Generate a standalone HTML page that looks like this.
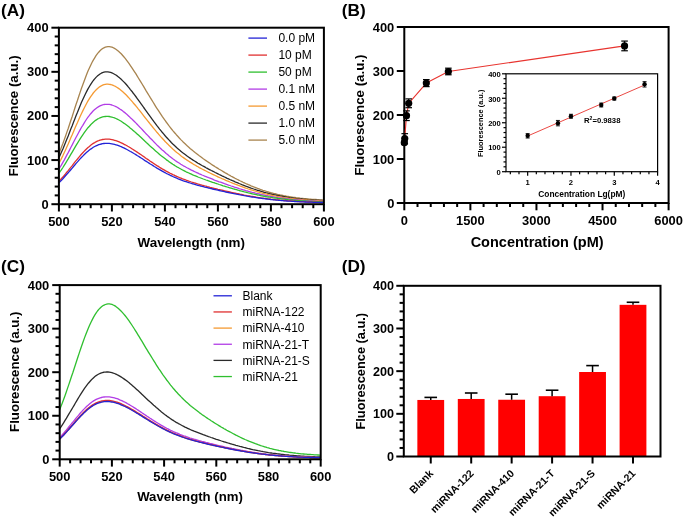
<!DOCTYPE html>
<html><head><meta charset="utf-8"><style>
html,body{margin:0;padding:0;background:#fff;}
svg{display:block;will-change:transform;}
text{font-family:"Liberation Sans",sans-serif;}
</style></head><body>
<svg width="685" height="518" viewBox="0 0 685 518" font-family="Liberation Sans, sans-serif">
<rect width="685" height="518" fill="#fff"/>
<text x="1.00" y="16.10" font-size="17.2" font-weight="bold" text-anchor="start" fill="#000" >(A)</text>
<path d="M58.9,153.7 60.2,150.4 61.5,147.0 62.9,143.5 64.2,139.9 65.5,136.2 66.8,132.4 68.2,128.5 69.5,124.5 70.8,120.5 72.2,116.5 73.5,112.4 74.8,108.3 76.1,104.3 77.5,100.3 78.8,96.3 80.1,92.4 81.4,88.5 82.8,84.8 84.1,81.2 85.4,77.7 86.7,74.3 88.0,71.1 89.4,68.1 90.7,65.2 92.0,62.5 93.3,60.1 94.7,57.8 96.0,55.7 97.3,53.9 98.7,52.2 100.0,50.8 101.3,49.6 102.6,48.6 103.9,47.8 105.3,47.2 106.6,46.9 107.9,46.7 109.2,46.7 110.6,46.9 111.9,47.2 113.2,47.7 114.5,48.4 115.9,49.2 117.2,50.2 118.5,51.3 119.8,52.5 121.2,53.8 122.5,55.3 123.8,56.8 125.2,58.4 126.5,60.1 127.8,61.9 129.1,63.7 130.4,65.6 131.8,67.6 133.1,69.6 134.4,71.6 135.8,73.7 137.1,75.8 138.4,78.0 139.7,80.1 141.1,82.3 142.4,84.5 143.7,86.7 145.0,88.9 146.3,91.1 147.7,93.3 149.0,95.5 150.3,97.7 151.7,99.9 153.0,102.0 154.3,104.2 155.6,106.3 156.9,108.3 158.3,110.4 159.6,112.4 160.9,114.4 162.2,116.4 163.6,118.3 164.9,120.2 166.2,122.0 167.6,123.8 168.9,125.6 170.2,127.3 171.5,129.0 172.8,130.6 174.2,132.2 175.5,133.7 176.8,135.3 178.2,136.7 179.5,138.2 180.8,139.6 182.1,140.9 183.4,142.2 184.8,143.5 186.1,144.8 187.4,146.0 188.8,147.2 190.1,148.4 191.4,149.5 192.7,150.6 194.1,151.7 195.4,152.8 196.7,153.8 198.0,154.8 199.3,155.8 200.7,156.8 202.0,157.8 203.3,158.8 204.7,159.7 206.0,160.6 207.3,161.5 208.6,162.4 210.0,163.3 211.3,164.2 212.6,165.1 213.9,165.9 215.2,166.8 216.6,167.6 217.9,168.4 219.2,169.2 220.6,170.0 221.9,170.8 223.2,171.6 224.5,172.4 225.8,173.2 227.2,173.9 228.5,174.7 229.8,175.4 231.2,176.2 232.5,176.9 233.8,177.6 235.1,178.3 236.5,179.0 237.8,179.7 239.1,180.3 240.4,181.0 241.8,181.6 243.1,182.3 244.4,182.9 245.7,183.5 247.1,184.1 248.4,184.7 249.7,185.2 251.0,185.8 252.3,186.3 253.7,186.9 255.0,187.4 256.3,187.9 257.6,188.4 259.0,188.9 260.3,189.4 261.6,189.8 262.9,190.3 264.3,190.7 265.6,191.1 266.9,191.5 268.2,191.9 269.6,192.3 270.9,192.7 272.2,193.0 273.6,193.4 274.9,193.7 276.2,194.0 277.5,194.4 278.8,194.7 280.2,195.0 281.5,195.2 282.8,195.5 284.1,195.8 285.5,196.0 286.8,196.3 288.1,196.5 289.4,196.7 290.8,196.9 292.1,197.1 293.4,197.3 294.8,197.5 296.1,197.7 297.4,197.8 298.7,198.0 300.1,198.2 301.4,198.3 302.7,198.4 304.0,198.6 305.3,198.7 306.7,198.8 308.0,198.9 309.3,199.1 310.6,199.2 312.0,199.3 313.3,199.4 314.6,199.4 315.9,199.5 317.3,199.6 318.6,199.7 319.9,199.8 321.2,199.8 322.6,199.9 323.9,200.0" fill="none" stroke="#a8844f" stroke-width="1.3" stroke-linejoin="round"/>
<path d="M58.9,157.9 60.2,155.0 61.5,152.0 62.9,148.9 64.2,145.7 65.5,142.5 66.8,139.2 68.2,135.9 69.5,132.5 70.8,129.1 72.2,125.7 73.5,122.3 74.8,118.9 76.1,115.5 77.5,112.2 78.8,108.9 80.1,105.7 81.4,102.6 82.8,99.6 84.1,96.8 85.4,94.0 86.7,91.4 88.0,88.9 89.4,86.5 90.7,84.4 92.0,82.4 93.3,80.5 94.7,78.9 96.0,77.4 97.3,76.1 98.7,75.0 100.0,74.0 101.3,73.2 102.6,72.6 103.9,72.2 105.3,71.9 106.6,71.8 107.9,71.9 109.2,72.1 110.6,72.4 111.9,72.9 113.2,73.5 114.5,74.2 115.9,75.0 117.2,75.9 118.5,76.9 119.8,78.1 121.2,79.3 122.5,80.6 123.8,81.9 125.2,83.3 126.5,84.8 127.8,86.3 129.1,87.9 130.4,89.6 131.8,91.2 133.1,93.0 134.4,94.7 135.8,96.5 137.1,98.3 138.4,100.1 139.7,101.9 141.1,103.8 142.4,105.6 143.7,107.5 145.0,109.3 146.3,111.2 147.7,113.1 149.0,114.9 150.3,116.7 151.7,118.6 153.0,120.4 154.3,122.2 155.6,123.9 156.9,125.7 158.3,127.4 159.6,129.1 160.9,130.7 162.2,132.3 163.6,133.9 164.9,135.5 166.2,137.0 167.6,138.5 168.9,139.9 170.2,141.3 171.5,142.7 172.8,144.0 174.2,145.3 175.5,146.5 176.8,147.8 178.2,148.9 179.5,150.1 180.8,151.2 182.1,152.3 183.4,153.3 184.8,154.3 186.1,155.3 187.4,156.3 188.8,157.2 190.1,158.1 191.4,159.0 192.7,159.9 194.1,160.7 195.4,161.5 196.7,162.4 198.0,163.2 199.3,163.9 200.7,164.7 202.0,165.5 203.3,166.2 204.7,166.9 206.0,167.7 207.3,168.4 208.6,169.1 210.0,169.8 211.3,170.5 212.6,171.1 213.9,171.8 215.2,172.5 216.6,173.2 217.9,173.8 219.2,174.5 220.6,175.1 221.9,175.8 223.2,176.4 224.5,177.0 225.8,177.6 227.2,178.3 228.5,178.9 229.8,179.5 231.2,180.1 232.5,180.7 233.8,181.2 235.1,181.8 236.5,182.4 237.8,182.9 239.1,183.5 240.4,184.0 241.8,184.6 243.1,185.1 244.4,185.6 245.7,186.1 247.1,186.6 248.4,187.1 249.7,187.6 251.0,188.1 252.3,188.5 253.7,189.0 255.0,189.4 256.3,189.9 257.6,190.3 259.0,190.7 260.3,191.1 261.6,191.5 262.9,191.9 264.3,192.3 265.6,192.6 266.9,193.0 268.2,193.3 269.6,193.7 270.9,194.0 272.2,194.3 273.6,194.6 274.9,194.9 276.2,195.2 277.5,195.5 278.8,195.7 280.2,196.0 281.5,196.2 282.8,196.5 284.1,196.7 285.5,196.9 286.8,197.2 288.1,197.4 289.4,197.6 290.8,197.8 292.1,197.9 293.4,198.1 294.8,198.3 296.1,198.5 297.4,198.6 298.7,198.8 300.1,198.9 301.4,199.0 302.7,199.2 304.0,199.3 305.3,199.4 306.7,199.5 308.0,199.7 309.3,199.8 310.6,199.9 312.0,200.0 313.3,200.0 314.6,200.1 315.9,200.2 317.3,200.3 318.6,200.4 319.9,200.4 321.2,200.5 322.6,200.6 323.9,200.6" fill="none" stroke="#2a2a2a" stroke-width="1.3" stroke-linejoin="round"/>
<path d="M58.9,163.6 60.2,161.0 61.5,158.4 62.9,155.6 64.2,152.8 65.5,149.9 66.8,147.0 68.2,144.0 69.5,140.9 70.8,137.8 72.2,134.8 73.5,131.7 74.8,128.6 76.1,125.5 77.5,122.5 78.8,119.5 80.1,116.6 81.4,113.7 82.8,110.9 84.1,108.3 85.4,105.7 86.7,103.2 88.0,100.9 89.4,98.7 90.7,96.7 92.0,94.8 93.3,93.0 94.7,91.4 96.0,90.0 97.3,88.7 98.7,87.6 100.0,86.6 101.3,85.8 102.6,85.2 103.9,84.7 105.3,84.4 106.6,84.2 107.9,84.2 109.2,84.3 110.6,84.5 111.9,84.9 113.2,85.4 114.5,86.0 115.9,86.7 117.2,87.5 118.5,88.4 119.8,89.3 121.2,90.4 122.5,91.5 123.8,92.7 125.2,94.0 126.5,95.3 127.8,96.7 129.1,98.1 130.4,99.6 131.8,101.1 133.1,102.7 134.4,104.2 135.8,105.8 137.1,107.4 138.4,109.1 139.7,110.7 141.1,112.4 142.4,114.1 143.7,115.8 145.0,117.5 146.3,119.1 147.7,120.8 149.0,122.5 150.3,124.2 151.7,125.8 153.0,127.5 154.3,129.1 155.6,130.7 156.9,132.3 158.3,133.8 159.6,135.4 160.9,136.9 162.2,138.3 163.6,139.8 164.9,141.2 166.2,142.6 167.6,143.9 168.9,145.3 170.2,146.5 171.5,147.8 172.8,149.0 174.2,150.2 175.5,151.4 176.8,152.5 178.2,153.6 179.5,154.6 180.8,155.7 182.1,156.7 183.4,157.6 184.8,158.6 186.1,159.5 187.4,160.4 188.8,161.3 190.1,162.1 191.4,162.9 192.7,163.8 194.1,164.6 195.4,165.3 196.7,166.1 198.0,166.8 199.3,167.6 200.7,168.3 202.0,169.0 203.3,169.7 204.7,170.4 206.0,171.0 207.3,171.7 208.6,172.4 210.0,173.0 211.3,173.7 212.6,174.3 213.9,174.9 215.2,175.5 216.6,176.2 217.9,176.8 219.2,177.4 220.6,178.0 221.9,178.6 223.2,179.1 224.5,179.7 225.8,180.3 227.2,180.9 228.5,181.4 229.8,182.0 231.2,182.5 232.5,183.1 233.8,183.6 235.1,184.1 236.5,184.6 237.8,185.2 239.1,185.7 240.4,186.2 241.8,186.6 243.1,187.1 244.4,187.6 245.7,188.1 247.1,188.5 248.4,189.0 249.7,189.4 251.0,189.8 252.3,190.2 253.7,190.6 255.0,191.0 256.3,191.4 257.6,191.8 259.0,192.2 260.3,192.6 261.6,192.9 262.9,193.3 264.3,193.6 265.6,193.9 266.9,194.2 268.2,194.5 269.6,194.8 270.9,195.1 272.2,195.4 273.6,195.7 274.9,195.9 276.2,196.2 277.5,196.4 278.8,196.7 280.2,196.9 281.5,197.1 282.8,197.3 284.1,197.6 285.5,197.8 286.8,197.9 288.1,198.1 289.4,198.3 290.8,198.5 292.1,198.6 293.4,198.8 294.8,198.9 296.1,199.1 297.4,199.2 298.7,199.4 300.1,199.5 301.4,199.6 302.7,199.7 304.0,199.8 305.3,199.9 306.7,200.0 308.0,200.1 309.3,200.2 310.6,200.3 312.0,200.4 313.3,200.5 314.6,200.5 315.9,200.6 317.3,200.7 318.6,200.7 319.9,200.8 321.2,200.9 322.6,200.9 323.9,201.0" fill="none" stroke="#f59a32" stroke-width="1.3" stroke-linejoin="round"/>
<path d="M58.9,169.2 60.2,167.0 61.5,164.8 62.9,162.4 64.2,160.1 65.5,157.6 66.8,155.1 68.2,152.6 69.5,150.1 70.8,147.5 72.2,144.9 73.5,142.3 74.8,139.8 76.1,137.2 77.5,134.7 78.8,132.3 80.1,129.9 81.4,127.5 82.8,125.3 84.1,123.1 85.4,121.0 86.7,119.0 88.0,117.1 89.4,115.4 90.7,113.7 92.0,112.2 93.3,110.8 94.7,109.6 96.0,108.5 97.3,107.5 98.7,106.6 100.0,105.9 101.3,105.3 102.6,104.9 103.9,104.5 105.3,104.3 106.6,104.3 107.9,104.3 109.2,104.4 110.6,104.7 111.9,105.0 113.2,105.5 114.5,106.0 115.9,106.6 117.2,107.3 118.5,108.1 119.8,109.0 121.2,109.9 122.5,110.8 123.8,111.9 125.2,112.9 126.5,114.1 127.8,115.2 129.1,116.4 130.4,117.7 131.8,118.9 133.1,120.2 134.4,121.5 135.8,122.9 137.1,124.2 138.4,125.6 139.7,127.0 141.1,128.4 142.4,129.8 143.7,131.2 145.0,132.6 146.3,134.0 147.7,135.4 149.0,136.8 150.3,138.2 151.7,139.5 153.0,140.9 154.3,142.3 155.6,143.6 156.9,144.9 158.3,146.2 159.6,147.5 160.9,148.7 162.2,149.9 163.6,151.1 164.9,152.3 166.2,153.5 167.6,154.6 168.9,155.7 170.2,156.7 171.5,157.7 172.8,158.7 174.2,159.7 175.5,160.7 176.8,161.6 178.2,162.5 179.5,163.3 180.8,164.2 182.1,165.0 183.4,165.8 184.8,166.5 186.1,167.3 187.4,168.0 188.8,168.7 190.1,169.4 191.4,170.1 192.7,170.7 194.1,171.4 195.4,172.0 196.7,172.6 198.0,173.2 199.3,173.8 200.7,174.4 202.0,175.0 203.3,175.5 204.7,176.1 206.0,176.6 207.3,177.2 208.6,177.7 210.0,178.2 211.3,178.7 212.6,179.2 213.9,179.8 215.2,180.3 216.6,180.8 217.9,181.3 219.2,181.8 220.6,182.2 221.9,182.7 223.2,183.2 224.5,183.7 225.8,184.1 227.2,184.6 228.5,185.1 229.8,185.5 231.2,186.0 232.5,186.4 233.8,186.9 235.1,187.3 236.5,187.7 237.8,188.1 239.1,188.6 240.4,189.0 241.8,189.4 243.1,189.8 244.4,190.2 245.7,190.6 247.1,190.9 248.4,191.3 249.7,191.7 251.0,192.0 252.3,192.4 253.7,192.7 255.0,193.0 256.3,193.4 257.6,193.7 259.0,194.0 260.3,194.3 261.6,194.6 262.9,194.9 264.3,195.2 265.6,195.5 266.9,195.7 268.2,196.0 269.6,196.2 270.9,196.5 272.2,196.7 273.6,196.9 274.9,197.2 276.2,197.4 277.5,197.6 278.8,197.8 280.2,198.0 281.5,198.2 282.8,198.4 284.1,198.5 285.5,198.7 286.8,198.9 288.1,199.0 289.4,199.2 290.8,199.3 292.1,199.5 293.4,199.6 294.8,199.7 296.1,199.9 297.4,200.0 298.7,200.1 300.1,200.2 301.4,200.3 302.7,200.4 304.0,200.5 305.3,200.6 306.7,200.7 308.0,200.8 309.3,200.8 310.6,200.9 312.0,201.0 313.3,201.1 314.6,201.1 315.9,201.2 317.3,201.3 318.6,201.3 319.9,201.4 321.2,201.4 322.6,201.5 323.9,201.5" fill="none" stroke="#b23de6" stroke-width="1.3" stroke-linejoin="round"/>
<path d="M58.9,173.5 60.2,171.5 61.5,169.6 62.9,167.5 64.2,165.4 65.5,163.3 66.8,161.1 68.2,158.9 69.5,156.6 70.8,154.4 72.2,152.1 73.5,149.9 74.8,147.6 76.1,145.4 77.5,143.2 78.8,141.0 80.1,138.9 81.4,136.8 82.8,134.8 84.1,132.9 85.4,131.1 86.7,129.4 88.0,127.7 89.4,126.2 90.7,124.7 92.0,123.4 93.3,122.2 94.7,121.1 96.0,120.1 97.3,119.2 98.7,118.5 100.0,117.8 101.3,117.3 102.6,116.9 103.9,116.6 105.3,116.5 106.6,116.4 107.9,116.4 109.2,116.5 110.6,116.8 111.9,117.1 113.2,117.5 114.5,117.9 115.9,118.5 117.2,119.1 118.5,119.8 119.8,120.5 121.2,121.3 122.5,122.2 123.8,123.1 125.2,124.0 126.5,125.0 127.8,126.0 129.1,127.1 130.4,128.2 131.8,129.3 133.1,130.4 134.4,131.6 135.8,132.7 137.1,133.9 138.4,135.1 139.7,136.3 141.1,137.6 142.4,138.8 143.7,140.0 145.0,141.3 146.3,142.5 147.7,143.7 149.0,145.0 150.3,146.2 151.7,147.4 153.0,148.6 154.3,149.8 155.6,151.0 156.9,152.1 158.3,153.2 159.6,154.4 160.9,155.5 162.2,156.5 163.6,157.6 164.9,158.6 166.2,159.6 167.6,160.6 168.9,161.6 170.2,162.5 171.5,163.4 172.8,164.3 174.2,165.1 175.5,166.0 176.8,166.8 178.2,167.5 179.5,168.3 180.8,169.0 182.1,169.7 183.4,170.4 184.8,171.1 186.1,171.8 187.4,172.4 188.8,173.0 190.1,173.6 191.4,174.2 192.7,174.8 194.1,175.4 195.4,175.9 196.7,176.4 198.0,177.0 199.3,177.5 200.7,178.0 202.0,178.5 203.3,179.0 204.7,179.5 206.0,180.0 207.3,180.4 208.6,180.9 210.0,181.4 211.3,181.8 212.6,182.3 213.9,182.7 215.2,183.2 216.6,183.6 217.9,184.0 219.2,184.5 220.6,184.9 221.9,185.3 223.2,185.8 224.5,186.2 225.8,186.6 227.2,187.0 228.5,187.4 229.8,187.8 231.2,188.2 232.5,188.6 233.8,189.0 235.1,189.3 236.5,189.7 237.8,190.1 239.1,190.5 240.4,190.8 241.8,191.2 243.1,191.5 244.4,191.9 245.7,192.2 247.1,192.5 248.4,192.9 249.7,193.2 251.0,193.5 252.3,193.8 253.7,194.1 255.0,194.4 256.3,194.7 257.6,195.0 259.0,195.2 260.3,195.5 261.6,195.8 262.9,196.0 264.3,196.3 265.6,196.5 266.9,196.8 268.2,197.0 269.6,197.2 270.9,197.4 272.2,197.6 273.6,197.8 274.9,198.0 276.2,198.2 277.5,198.4 278.8,198.6 280.2,198.7 281.5,198.9 282.8,199.1 284.1,199.2 285.5,199.4 286.8,199.5 288.1,199.7 289.4,199.8 290.8,199.9 292.1,200.0 293.4,200.2 294.8,200.3 296.1,200.4 297.4,200.5 298.7,200.6 300.1,200.7 301.4,200.8 302.7,200.9 304.0,201.0 305.3,201.0 306.7,201.1 308.0,201.2 309.3,201.3 310.6,201.3 312.0,201.4 313.3,201.4 314.6,201.5 315.9,201.6 317.3,201.6 318.6,201.7 319.9,201.7 321.2,201.8 322.6,201.8 323.9,201.8" fill="none" stroke="#2fbf2f" stroke-width="1.3" stroke-linejoin="round"/>
<path d="M58.9,181.4 60.2,180.0 61.5,178.5 62.9,177.0 64.2,175.5 65.5,173.9 66.8,172.2 68.2,170.6 69.5,168.9 70.8,167.3 72.2,165.6 73.5,163.9 74.8,162.2 76.1,160.6 77.5,159.0 78.8,157.4 80.1,155.8 81.4,154.3 82.8,152.8 84.1,151.4 85.4,150.0 86.7,148.7 88.0,147.5 89.4,146.4 90.7,145.3 92.0,144.3 93.3,143.4 94.7,142.6 96.0,141.8 97.3,141.2 98.7,140.7 100.0,140.2 101.3,139.8 102.6,139.5 103.9,139.3 105.3,139.2 106.6,139.1 107.9,139.1 109.2,139.2 110.6,139.4 111.9,139.6 113.2,139.9 114.5,140.3 115.9,140.7 117.2,141.1 118.5,141.6 119.8,142.2 121.2,142.8 122.5,143.4 123.8,144.1 125.2,144.8 126.5,145.5 127.8,146.3 129.1,147.0 130.4,147.8 131.8,148.7 133.1,149.5 134.4,150.4 135.8,151.2 137.1,152.1 138.4,153.0 139.7,153.9 141.1,154.8 142.4,155.7 143.7,156.6 145.0,157.6 146.3,158.5 147.7,159.4 149.0,160.3 150.3,161.2 151.7,162.1 153.0,163.0 154.3,163.9 155.6,164.7 156.9,165.6 158.3,166.4 159.6,167.3 160.9,168.1 162.2,168.9 163.6,169.6 164.9,170.4 166.2,171.2 167.6,171.9 168.9,172.6 170.2,173.3 171.5,173.9 172.8,174.6 174.2,175.2 175.5,175.8 176.8,176.4 178.2,177.0 179.5,177.6 180.8,178.1 182.1,178.7 183.4,179.2 184.8,179.7 186.1,180.2 187.4,180.6 188.8,181.1 190.1,181.5 191.4,182.0 192.7,182.4 194.1,182.8 195.4,183.2 196.7,183.6 198.0,184.0 199.3,184.4 200.7,184.8 202.0,185.2 203.3,185.5 204.7,185.9 206.0,186.2 207.3,186.6 208.6,186.9 210.0,187.3 211.3,187.6 212.6,188.0 213.9,188.3 215.2,188.6 216.6,188.9 217.9,189.3 219.2,189.6 220.6,189.9 221.9,190.2 223.2,190.5 224.5,190.8 225.8,191.1 227.2,191.4 228.5,191.7 229.8,192.0 231.2,192.3 232.5,192.6 233.8,192.9 235.1,193.2 236.5,193.5 237.8,193.7 239.1,194.0 240.4,194.3 241.8,194.5 243.1,194.8 244.4,195.1 245.7,195.3 247.1,195.6 248.4,195.8 249.7,196.0 251.0,196.3 252.3,196.5 253.7,196.7 255.0,196.9 256.3,197.2 257.6,197.4 259.0,197.6 260.3,197.8 261.6,198.0 262.9,198.1 264.3,198.3 265.6,198.5 266.9,198.7 268.2,198.8 269.6,199.0 270.9,199.2 272.2,199.3 273.6,199.5 274.9,199.6 276.2,199.8 277.5,199.9 278.8,200.0 280.2,200.2 281.5,200.3 282.8,200.4 284.1,200.5 285.5,200.6 286.8,200.7 288.1,200.8 289.4,200.9 290.8,201.0 292.1,201.1 293.4,201.2 294.8,201.3 296.1,201.4 297.4,201.5 298.7,201.5 300.1,201.6 301.4,201.7 302.7,201.7 304.0,201.8 305.3,201.9 306.7,201.9 308.0,202.0 309.3,202.0 310.6,202.1 312.0,202.1 313.3,202.2 314.6,202.2 315.9,202.2 317.3,202.3 318.6,202.3 319.9,202.4 321.2,202.4 322.6,202.4 323.9,202.4" fill="none" stroke="#e03030" stroke-width="1.3" stroke-linejoin="round"/>
<path d="M58.9,182.9 60.2,181.5 61.5,180.2 62.9,178.8 64.2,177.3 65.5,175.8 66.8,174.3 68.2,172.8 69.5,171.2 70.8,169.7 72.2,168.1 73.5,166.5 74.8,165.0 76.1,163.4 77.5,161.9 78.8,160.4 80.1,158.9 81.4,157.5 82.8,156.1 84.1,154.8 85.4,153.5 86.7,152.3 88.0,151.2 89.4,150.1 90.7,149.1 92.0,148.2 93.3,147.3 94.7,146.5 96.0,145.9 97.3,145.3 98.7,144.7 100.0,144.3 101.3,144.0 102.6,143.7 103.9,143.5 105.3,143.4 106.6,143.3 107.9,143.3 109.2,143.4 110.6,143.6 111.9,143.8 113.2,144.1 114.5,144.4 115.9,144.8 117.2,145.2 118.5,145.7 119.8,146.2 121.2,146.7 122.5,147.3 123.8,147.9 125.2,148.6 126.5,149.3 127.8,150.0 129.1,150.7 130.4,151.5 131.8,152.2 133.1,153.0 134.4,153.8 135.8,154.6 137.1,155.5 138.4,156.3 139.7,157.1 141.1,158.0 142.4,158.8 143.7,159.7 145.0,160.6 146.3,161.4 147.7,162.3 149.0,163.1 150.3,164.0 151.7,164.8 153.0,165.6 154.3,166.5 155.6,167.3 156.9,168.1 158.3,168.9 159.6,169.6 160.9,170.4 162.2,171.1 163.6,171.9 164.9,172.6 166.2,173.3 167.6,174.0 168.9,174.6 170.2,175.3 171.5,175.9 172.8,176.5 174.2,177.1 175.5,177.7 176.8,178.2 178.2,178.8 179.5,179.3 180.8,179.8 182.1,180.3 183.4,180.8 184.8,181.3 186.1,181.7 187.4,182.2 188.8,182.6 190.1,183.0 191.4,183.4 192.7,183.8 194.1,184.2 195.4,184.6 196.7,185.0 198.0,185.3 199.3,185.7 200.7,186.0 202.0,186.4 203.3,186.7 204.7,187.1 206.0,187.4 207.3,187.7 208.6,188.0 210.0,188.4 211.3,188.7 212.6,189.0 213.9,189.3 215.2,189.6 216.6,189.9 217.9,190.2 219.2,190.5 220.6,190.8 221.9,191.1 223.2,191.4 224.5,191.7 225.8,192.0 227.2,192.3 228.5,192.5 229.8,192.8 231.2,193.1 232.5,193.4 233.8,193.6 235.1,193.9 236.5,194.2 237.8,194.4 239.1,194.7 240.4,194.9 241.8,195.2 243.1,195.4 244.4,195.7 245.7,195.9 247.1,196.1 248.4,196.3 249.7,196.6 251.0,196.8 252.3,197.0 253.7,197.2 255.0,197.4 256.3,197.6 257.6,197.8 259.0,198.0 260.3,198.2 261.6,198.4 262.9,198.5 264.3,198.7 265.6,198.9 266.9,199.0 268.2,199.2 269.6,199.3 270.9,199.5 272.2,199.6 273.6,199.8 274.9,199.9 276.2,200.1 277.5,200.2 278.8,200.3 280.2,200.4 281.5,200.5 282.8,200.6 284.1,200.8 285.5,200.9 286.8,201.0 288.1,201.1 289.4,201.1 290.8,201.2 292.1,201.3 293.4,201.4 294.8,201.5 296.1,201.6 297.4,201.6 298.7,201.7 300.1,201.8 301.4,201.8 302.7,201.9 304.0,201.9 305.3,202.0 306.7,202.1 308.0,202.1 309.3,202.2 310.6,202.2 312.0,202.2 313.3,202.3 314.6,202.3 315.9,202.4 317.3,202.4 318.6,202.4 319.9,202.5 321.2,202.5 322.6,202.5 323.9,202.6" fill="none" stroke="#2323d6" stroke-width="1.3" stroke-linejoin="round"/>
<rect x="58.90" y="27.70" width="265.00" height="176.50" fill="none" stroke="#000" stroke-width="2"/>
<line x1="51.40" y1="204.20" x2="58.90" y2="204.20" stroke="#000" stroke-width="2" />
<text x="48.60" y="208.71" font-size="12.9" font-weight="bold" text-anchor="end" fill="#000" >0</text>
<line x1="51.40" y1="160.07" x2="58.90" y2="160.07" stroke="#000" stroke-width="2" />
<text x="48.60" y="164.59" font-size="12.9" font-weight="bold" text-anchor="end" fill="#000" >100</text>
<line x1="51.40" y1="115.95" x2="58.90" y2="115.95" stroke="#000" stroke-width="2" />
<text x="48.60" y="120.46" font-size="12.9" font-weight="bold" text-anchor="end" fill="#000" >200</text>
<line x1="51.40" y1="71.82" x2="58.90" y2="71.82" stroke="#000" stroke-width="2" />
<text x="48.60" y="76.34" font-size="12.9" font-weight="bold" text-anchor="end" fill="#000" >300</text>
<line x1="51.40" y1="27.70" x2="58.90" y2="27.70" stroke="#000" stroke-width="2" />
<text x="48.60" y="32.21" font-size="12.9" font-weight="bold" text-anchor="end" fill="#000" >400</text>
<line x1="54.70" y1="195.38" x2="58.90" y2="195.38" stroke="#000" stroke-width="2" />
<line x1="54.70" y1="186.55" x2="58.90" y2="186.55" stroke="#000" stroke-width="2" />
<line x1="54.70" y1="177.72" x2="58.90" y2="177.72" stroke="#000" stroke-width="2" />
<line x1="54.70" y1="168.90" x2="58.90" y2="168.90" stroke="#000" stroke-width="2" />
<line x1="54.70" y1="151.25" x2="58.90" y2="151.25" stroke="#000" stroke-width="2" />
<line x1="54.70" y1="142.42" x2="58.90" y2="142.42" stroke="#000" stroke-width="2" />
<line x1="54.70" y1="133.60" x2="58.90" y2="133.60" stroke="#000" stroke-width="2" />
<line x1="54.70" y1="124.77" x2="58.90" y2="124.77" stroke="#000" stroke-width="2" />
<line x1="54.70" y1="107.12" x2="58.90" y2="107.12" stroke="#000" stroke-width="2" />
<line x1="54.70" y1="98.30" x2="58.90" y2="98.30" stroke="#000" stroke-width="2" />
<line x1="54.70" y1="89.47" x2="58.90" y2="89.47" stroke="#000" stroke-width="2" />
<line x1="54.70" y1="80.65" x2="58.90" y2="80.65" stroke="#000" stroke-width="2" />
<line x1="54.70" y1="63.00" x2="58.90" y2="63.00" stroke="#000" stroke-width="2" />
<line x1="54.70" y1="54.17" x2="58.90" y2="54.17" stroke="#000" stroke-width="2" />
<line x1="54.70" y1="45.35" x2="58.90" y2="45.35" stroke="#000" stroke-width="2" />
<line x1="54.70" y1="36.52" x2="58.90" y2="36.52" stroke="#000" stroke-width="2" />
<line x1="58.90" y1="204.20" x2="58.90" y2="211.50" stroke="#000" stroke-width="2" />
<text x="58.90" y="226.30" font-size="12.9" font-weight="bold" text-anchor="middle" fill="#000" >500</text>
<line x1="111.90" y1="204.20" x2="111.90" y2="211.50" stroke="#000" stroke-width="2" />
<text x="111.90" y="226.30" font-size="12.9" font-weight="bold" text-anchor="middle" fill="#000" >520</text>
<line x1="164.90" y1="204.20" x2="164.90" y2="211.50" stroke="#000" stroke-width="2" />
<text x="164.90" y="226.30" font-size="12.9" font-weight="bold" text-anchor="middle" fill="#000" >540</text>
<line x1="217.90" y1="204.20" x2="217.90" y2="211.50" stroke="#000" stroke-width="2" />
<text x="217.90" y="226.30" font-size="12.9" font-weight="bold" text-anchor="middle" fill="#000" >560</text>
<line x1="270.90" y1="204.20" x2="270.90" y2="211.50" stroke="#000" stroke-width="2" />
<text x="270.90" y="226.30" font-size="12.9" font-weight="bold" text-anchor="middle" fill="#000" >580</text>
<line x1="323.90" y1="204.20" x2="323.90" y2="211.50" stroke="#000" stroke-width="2" />
<text x="323.90" y="226.30" font-size="12.9" font-weight="bold" text-anchor="middle" fill="#000" >600</text>
<line x1="69.50" y1="204.20" x2="69.50" y2="208.20" stroke="#000" stroke-width="2" />
<line x1="80.10" y1="204.20" x2="80.10" y2="208.20" stroke="#000" stroke-width="2" />
<line x1="90.70" y1="204.20" x2="90.70" y2="208.20" stroke="#000" stroke-width="2" />
<line x1="101.30" y1="204.20" x2="101.30" y2="208.20" stroke="#000" stroke-width="2" />
<line x1="122.50" y1="204.20" x2="122.50" y2="208.20" stroke="#000" stroke-width="2" />
<line x1="133.10" y1="204.20" x2="133.10" y2="208.20" stroke="#000" stroke-width="2" />
<line x1="143.70" y1="204.20" x2="143.70" y2="208.20" stroke="#000" stroke-width="2" />
<line x1="154.30" y1="204.20" x2="154.30" y2="208.20" stroke="#000" stroke-width="2" />
<line x1="175.50" y1="204.20" x2="175.50" y2="208.20" stroke="#000" stroke-width="2" />
<line x1="186.10" y1="204.20" x2="186.10" y2="208.20" stroke="#000" stroke-width="2" />
<line x1="196.70" y1="204.20" x2="196.70" y2="208.20" stroke="#000" stroke-width="2" />
<line x1="207.30" y1="204.20" x2="207.30" y2="208.20" stroke="#000" stroke-width="2" />
<line x1="228.50" y1="204.20" x2="228.50" y2="208.20" stroke="#000" stroke-width="2" />
<line x1="239.10" y1="204.20" x2="239.10" y2="208.20" stroke="#000" stroke-width="2" />
<line x1="249.70" y1="204.20" x2="249.70" y2="208.20" stroke="#000" stroke-width="2" />
<line x1="260.30" y1="204.20" x2="260.30" y2="208.20" stroke="#000" stroke-width="2" />
<line x1="281.50" y1="204.20" x2="281.50" y2="208.20" stroke="#000" stroke-width="2" />
<line x1="292.10" y1="204.20" x2="292.10" y2="208.20" stroke="#000" stroke-width="2" />
<line x1="302.70" y1="204.20" x2="302.70" y2="208.20" stroke="#000" stroke-width="2" />
<line x1="313.30" y1="204.20" x2="313.30" y2="208.20" stroke="#000" stroke-width="2" />
<text x="191.30" y="246.60" font-size="13.4" font-weight="bold" text-anchor="middle" fill="#000" >Wavelength (nm)</text>
<text x="0.00" y="0.00" font-size="13.3" font-weight="bold" text-anchor="middle" fill="#000" transform="translate(18.0,115.9) rotate(-90)">Fluorescence (a.u.)</text>
<line x1="248.40" y1="38.10" x2="267.00" y2="38.10" stroke="#2323d6" stroke-width="1.3" />
<text x="278.40" y="42.30" font-size="12" font-weight="normal" text-anchor="start" fill="#000" >0.0 pM</text>
<line x1="248.40" y1="55.10" x2="267.00" y2="55.10" stroke="#e03030" stroke-width="1.3" />
<text x="278.40" y="59.30" font-size="12" font-weight="normal" text-anchor="start" fill="#000" >10 pM</text>
<line x1="248.40" y1="72.10" x2="267.00" y2="72.10" stroke="#2fbf2f" stroke-width="1.3" />
<text x="278.40" y="76.30" font-size="12" font-weight="normal" text-anchor="start" fill="#000" >50 pM</text>
<line x1="248.40" y1="89.10" x2="267.00" y2="89.10" stroke="#b23de6" stroke-width="1.3" />
<text x="278.40" y="93.30" font-size="12" font-weight="normal" text-anchor="start" fill="#000" >0.1 nM</text>
<line x1="248.40" y1="106.10" x2="267.00" y2="106.10" stroke="#f59a32" stroke-width="1.3" />
<text x="278.40" y="110.30" font-size="12" font-weight="normal" text-anchor="start" fill="#000" >0.5 nM</text>
<line x1="248.40" y1="123.10" x2="267.00" y2="123.10" stroke="#2a2a2a" stroke-width="1.3" />
<text x="278.40" y="127.30" font-size="12" font-weight="normal" text-anchor="start" fill="#000" >1.0 nM</text>
<line x1="248.40" y1="140.10" x2="267.00" y2="140.10" stroke="#a8844f" stroke-width="1.3" />
<text x="278.40" y="144.30" font-size="12" font-weight="normal" text-anchor="start" fill="#000" >5.0 nM</text>
<text x="341.80" y="16.10" font-size="17.2" font-weight="bold" text-anchor="start" fill="#000" >(B)</text>
<rect x="404.30" y="27.00" width="264.30" height="176.00" fill="none" stroke="#000" stroke-width="2"/>
<line x1="396.80" y1="203.00" x2="404.30" y2="203.00" stroke="#000" stroke-width="2" />
<text x="394.30" y="207.51" font-size="12.9" font-weight="bold" text-anchor="end" fill="#000" >0</text>
<line x1="396.80" y1="159.00" x2="404.30" y2="159.00" stroke="#000" stroke-width="2" />
<text x="394.30" y="163.51" font-size="12.9" font-weight="bold" text-anchor="end" fill="#000" >100</text>
<line x1="396.80" y1="115.00" x2="404.30" y2="115.00" stroke="#000" stroke-width="2" />
<text x="394.30" y="119.52" font-size="12.9" font-weight="bold" text-anchor="end" fill="#000" >200</text>
<line x1="396.80" y1="71.00" x2="404.30" y2="71.00" stroke="#000" stroke-width="2" />
<text x="394.30" y="75.52" font-size="12.9" font-weight="bold" text-anchor="end" fill="#000" >300</text>
<line x1="396.80" y1="27.00" x2="404.30" y2="27.00" stroke="#000" stroke-width="2" />
<text x="394.30" y="31.52" font-size="12.9" font-weight="bold" text-anchor="end" fill="#000" >400</text>
<line x1="404.30" y1="203.00" x2="404.30" y2="210.30" stroke="#000" stroke-width="2" />
<text x="404.30" y="225.10" font-size="12.9" font-weight="bold" text-anchor="middle" fill="#000" >0</text>
<line x1="470.38" y1="203.00" x2="470.38" y2="210.30" stroke="#000" stroke-width="2" />
<text x="470.38" y="225.10" font-size="12.9" font-weight="bold" text-anchor="middle" fill="#000" >1500</text>
<line x1="536.45" y1="203.00" x2="536.45" y2="210.30" stroke="#000" stroke-width="2" />
<text x="536.45" y="225.10" font-size="12.9" font-weight="bold" text-anchor="middle" fill="#000" >3000</text>
<line x1="602.52" y1="203.00" x2="602.52" y2="210.30" stroke="#000" stroke-width="2" />
<text x="602.52" y="225.10" font-size="12.9" font-weight="bold" text-anchor="middle" fill="#000" >4500</text>
<line x1="668.60" y1="203.00" x2="668.60" y2="210.30" stroke="#000" stroke-width="2" />
<text x="668.60" y="225.10" font-size="12.9" font-weight="bold" text-anchor="middle" fill="#000" >6000</text>
<line x1="417.51" y1="203.00" x2="417.51" y2="207.00" stroke="#000" stroke-width="2" />
<line x1="430.73" y1="203.00" x2="430.73" y2="207.00" stroke="#000" stroke-width="2" />
<line x1="443.94" y1="203.00" x2="443.94" y2="207.00" stroke="#000" stroke-width="2" />
<line x1="457.16" y1="203.00" x2="457.16" y2="207.00" stroke="#000" stroke-width="2" />
<line x1="483.59" y1="203.00" x2="483.59" y2="207.00" stroke="#000" stroke-width="2" />
<line x1="496.81" y1="203.00" x2="496.81" y2="207.00" stroke="#000" stroke-width="2" />
<line x1="510.02" y1="203.00" x2="510.02" y2="207.00" stroke="#000" stroke-width="2" />
<line x1="523.24" y1="203.00" x2="523.24" y2="207.00" stroke="#000" stroke-width="2" />
<line x1="549.66" y1="203.00" x2="549.66" y2="207.00" stroke="#000" stroke-width="2" />
<line x1="562.88" y1="203.00" x2="562.88" y2="207.00" stroke="#000" stroke-width="2" />
<line x1="576.10" y1="203.00" x2="576.10" y2="207.00" stroke="#000" stroke-width="2" />
<line x1="589.31" y1="203.00" x2="589.31" y2="207.00" stroke="#000" stroke-width="2" />
<line x1="615.74" y1="203.00" x2="615.74" y2="207.00" stroke="#000" stroke-width="2" />
<line x1="628.96" y1="203.00" x2="628.96" y2="207.00" stroke="#000" stroke-width="2" />
<line x1="642.17" y1="203.00" x2="642.17" y2="207.00" stroke="#000" stroke-width="2" />
<line x1="655.38" y1="203.00" x2="655.38" y2="207.00" stroke="#000" stroke-width="2" />
<text x="537.10" y="247.20" font-size="14.5" font-weight="bold" text-anchor="middle" fill="#000" >Concentration (pM)</text>
<text x="0.00" y="0.00" font-size="13.3" font-weight="bold" text-anchor="middle" fill="#000" transform="translate(363.6,115.15) rotate(-90)">Fluorescence (a.u.)</text>
<path d="M404.3,142.7 404.7,138.5 406.5,115.7 408.7,103.3 426.3,83.1 448.4,71.5 624.5,45.9" fill="none" stroke="#e8342f" stroke-width="1.1" stroke-linejoin="round"/>
<line x1="404.30" y1="141.18" x2="404.30" y2="144.26" stroke="#000" stroke-width="1.2" />
<line x1="401.00" y1="141.18" x2="407.60" y2="141.18" stroke="#000" stroke-width="1.2" />
<line x1="401.00" y1="144.26" x2="407.60" y2="144.26" stroke="#000" stroke-width="1.2" />
<line x1="404.74" y1="133.66" x2="404.74" y2="143.34" stroke="#000" stroke-width="1.2" />
<line x1="401.44" y1="133.66" x2="408.04" y2="133.66" stroke="#000" stroke-width="1.2" />
<line x1="401.44" y1="143.34" x2="408.04" y2="143.34" stroke="#000" stroke-width="1.2" />
<line x1="406.50" y1="110.86" x2="406.50" y2="120.54" stroke="#000" stroke-width="1.2" />
<line x1="403.20" y1="110.86" x2="409.80" y2="110.86" stroke="#000" stroke-width="1.2" />
<line x1="403.20" y1="120.54" x2="409.80" y2="120.54" stroke="#000" stroke-width="1.2" />
<line x1="408.70" y1="98.90" x2="408.70" y2="107.70" stroke="#000" stroke-width="1.2" />
<line x1="405.40" y1="98.90" x2="412.00" y2="98.90" stroke="#000" stroke-width="1.2" />
<line x1="405.40" y1="107.70" x2="412.00" y2="107.70" stroke="#000" stroke-width="1.2" />
<line x1="426.32" y1="79.58" x2="426.32" y2="86.62" stroke="#000" stroke-width="1.2" />
<line x1="423.02" y1="79.58" x2="429.62" y2="79.58" stroke="#000" stroke-width="1.2" />
<line x1="423.02" y1="86.62" x2="429.62" y2="86.62" stroke="#000" stroke-width="1.2" />
<line x1="448.35" y1="68.18" x2="448.35" y2="74.78" stroke="#000" stroke-width="1.2" />
<line x1="445.05" y1="68.18" x2="451.65" y2="68.18" stroke="#000" stroke-width="1.2" />
<line x1="445.05" y1="74.78" x2="451.65" y2="74.78" stroke="#000" stroke-width="1.2" />
<line x1="624.55" y1="41.08" x2="624.55" y2="50.76" stroke="#000" stroke-width="1.2" />
<line x1="621.25" y1="41.08" x2="627.85" y2="41.08" stroke="#000" stroke-width="1.2" />
<line x1="621.25" y1="50.76" x2="627.85" y2="50.76" stroke="#000" stroke-width="1.2" />
<circle cx="404.30" cy="142.72" r="3.6" fill="#000"/>
<circle cx="404.74" cy="138.50" r="3.6" fill="#000"/>
<circle cx="406.50" cy="115.70" r="3.6" fill="#000"/>
<circle cx="408.70" cy="103.30" r="3.6" fill="#000"/>
<circle cx="426.32" cy="83.10" r="3.6" fill="#000"/>
<circle cx="448.35" cy="71.48" r="3.6" fill="#000"/>
<circle cx="624.55" cy="45.92" r="3.6" fill="#000"/>
<rect x="506.0" y="73.8" width="151.60" height="97.90" fill="#fff" stroke="#000" stroke-width="1.2"/>
<line x1="502.00" y1="171.70" x2="506.00" y2="171.70" stroke="#000" stroke-width="1.2" />
<text x="500.80" y="174.96" font-size="7.6" font-weight="bold" text-anchor="end" fill="#000" >0</text>
<line x1="502.00" y1="147.22" x2="506.00" y2="147.22" stroke="#000" stroke-width="1.2" />
<text x="500.80" y="150.48" font-size="7.6" font-weight="bold" text-anchor="end" fill="#000" >100</text>
<line x1="502.00" y1="122.75" x2="506.00" y2="122.75" stroke="#000" stroke-width="1.2" />
<text x="500.80" y="126.01" font-size="7.6" font-weight="bold" text-anchor="end" fill="#000" >200</text>
<line x1="502.00" y1="98.27" x2="506.00" y2="98.27" stroke="#000" stroke-width="1.2" />
<text x="500.80" y="101.53" font-size="7.6" font-weight="bold" text-anchor="end" fill="#000" >300</text>
<line x1="502.00" y1="73.80" x2="506.00" y2="73.80" stroke="#000" stroke-width="1.2" />
<text x="500.80" y="77.06" font-size="7.6" font-weight="bold" text-anchor="end" fill="#000" >400</text>
<line x1="503.50" y1="166.80" x2="506.00" y2="166.80" stroke="#000" stroke-width="1.2" />
<line x1="503.50" y1="161.91" x2="506.00" y2="161.91" stroke="#000" stroke-width="1.2" />
<line x1="503.50" y1="157.01" x2="506.00" y2="157.01" stroke="#000" stroke-width="1.2" />
<line x1="503.50" y1="152.12" x2="506.00" y2="152.12" stroke="#000" stroke-width="1.2" />
<line x1="503.50" y1="142.33" x2="506.00" y2="142.33" stroke="#000" stroke-width="1.2" />
<line x1="503.50" y1="137.44" x2="506.00" y2="137.44" stroke="#000" stroke-width="1.2" />
<line x1="503.50" y1="132.54" x2="506.00" y2="132.54" stroke="#000" stroke-width="1.2" />
<line x1="503.50" y1="127.64" x2="506.00" y2="127.64" stroke="#000" stroke-width="1.2" />
<line x1="503.50" y1="117.85" x2="506.00" y2="117.85" stroke="#000" stroke-width="1.2" />
<line x1="503.50" y1="112.96" x2="506.00" y2="112.96" stroke="#000" stroke-width="1.2" />
<line x1="503.50" y1="108.06" x2="506.00" y2="108.06" stroke="#000" stroke-width="1.2" />
<line x1="503.50" y1="103.17" x2="506.00" y2="103.17" stroke="#000" stroke-width="1.2" />
<line x1="503.50" y1="93.38" x2="506.00" y2="93.38" stroke="#000" stroke-width="1.2" />
<line x1="503.50" y1="88.48" x2="506.00" y2="88.48" stroke="#000" stroke-width="1.2" />
<line x1="503.50" y1="83.59" x2="506.00" y2="83.59" stroke="#000" stroke-width="1.2" />
<line x1="503.50" y1="78.69" x2="506.00" y2="78.69" stroke="#000" stroke-width="1.2" />
<line x1="527.66" y1="171.70" x2="527.66" y2="175.70" stroke="#000" stroke-width="1.2" />
<text x="527.66" y="184.80" font-size="7.6" font-weight="bold" text-anchor="middle" fill="#000" >1</text>
<line x1="570.97" y1="171.70" x2="570.97" y2="175.70" stroke="#000" stroke-width="1.2" />
<text x="570.97" y="184.80" font-size="7.6" font-weight="bold" text-anchor="middle" fill="#000" >2</text>
<line x1="614.29" y1="171.70" x2="614.29" y2="175.70" stroke="#000" stroke-width="1.2" />
<text x="614.29" y="184.80" font-size="7.6" font-weight="bold" text-anchor="middle" fill="#000" >3</text>
<line x1="657.60" y1="171.70" x2="657.60" y2="175.70" stroke="#000" stroke-width="1.2" />
<text x="657.60" y="184.80" font-size="7.6" font-weight="bold" text-anchor="middle" fill="#000" >4</text>
<line x1="510.33" y1="171.70" x2="510.33" y2="174.20" stroke="#000" stroke-width="1.2" />
<line x1="518.99" y1="171.70" x2="518.99" y2="174.20" stroke="#000" stroke-width="1.2" />
<line x1="536.32" y1="171.70" x2="536.32" y2="174.20" stroke="#000" stroke-width="1.2" />
<line x1="544.98" y1="171.70" x2="544.98" y2="174.20" stroke="#000" stroke-width="1.2" />
<line x1="553.65" y1="171.70" x2="553.65" y2="174.20" stroke="#000" stroke-width="1.2" />
<line x1="562.31" y1="171.70" x2="562.31" y2="174.20" stroke="#000" stroke-width="1.2" />
<line x1="579.63" y1="171.70" x2="579.63" y2="174.20" stroke="#000" stroke-width="1.2" />
<line x1="588.30" y1="171.70" x2="588.30" y2="174.20" stroke="#000" stroke-width="1.2" />
<line x1="596.96" y1="171.70" x2="596.96" y2="174.20" stroke="#000" stroke-width="1.2" />
<line x1="605.62" y1="171.70" x2="605.62" y2="174.20" stroke="#000" stroke-width="1.2" />
<line x1="622.95" y1="171.70" x2="622.95" y2="174.20" stroke="#000" stroke-width="1.2" />
<line x1="631.61" y1="171.70" x2="631.61" y2="174.20" stroke="#000" stroke-width="1.2" />
<line x1="640.27" y1="171.70" x2="640.27" y2="174.20" stroke="#000" stroke-width="1.2" />
<line x1="648.94" y1="171.70" x2="648.94" y2="174.20" stroke="#000" stroke-width="1.2" />
<text x="581.80" y="196.60" font-size="8.4" font-weight="bold" text-anchor="middle" fill="#000" >Concentration Lg(pM)</text>
<text x="0.00" y="0.00" font-size="7.4" font-weight="bold" text-anchor="middle" fill="#000" transform="translate(482.8,123.3) rotate(-90)">Fluorescence (a.u.)</text>
<line x1="527.66" y1="136.01" x2="644.56" y2="85.02" stroke="#e8342f" stroke-width="0.9" />
<line x1="527.66" y1="133.62" x2="527.66" y2="138.02" stroke="#000" stroke-width="0.9" />
<line x1="525.66" y1="133.62" x2="529.66" y2="133.62" stroke="#000" stroke-width="0.9" />
<line x1="525.66" y1="138.02" x2="529.66" y2="138.02" stroke="#000" stroke-width="0.9" />
<circle cx="527.66" cy="135.82" r="2.2" fill="#000"/>
<line x1="557.93" y1="120.45" x2="557.93" y2="125.83" stroke="#000" stroke-width="0.9" />
<line x1="555.93" y1="120.45" x2="559.93" y2="120.45" stroke="#000" stroke-width="0.9" />
<line x1="555.93" y1="125.83" x2="559.93" y2="125.83" stroke="#000" stroke-width="0.9" />
<circle cx="557.93" cy="123.14" r="2.2" fill="#000"/>
<line x1="570.97" y1="114.28" x2="570.97" y2="118.20" stroke="#000" stroke-width="0.9" />
<line x1="568.97" y1="114.28" x2="572.97" y2="114.28" stroke="#000" stroke-width="0.9" />
<line x1="568.97" y1="118.20" x2="572.97" y2="118.20" stroke="#000" stroke-width="0.9" />
<circle cx="570.97" cy="116.24" r="2.2" fill="#000"/>
<line x1="601.25" y1="103.05" x2="601.25" y2="106.96" stroke="#000" stroke-width="0.9" />
<line x1="599.25" y1="103.05" x2="603.25" y2="103.05" stroke="#000" stroke-width="0.9" />
<line x1="599.25" y1="106.96" x2="603.25" y2="106.96" stroke="#000" stroke-width="0.9" />
<circle cx="601.25" cy="105.01" r="2.2" fill="#000"/>
<line x1="614.29" y1="97.08" x2="614.29" y2="100.01" stroke="#000" stroke-width="0.9" />
<line x1="612.29" y1="97.08" x2="616.29" y2="97.08" stroke="#000" stroke-width="0.9" />
<line x1="612.29" y1="100.01" x2="616.29" y2="100.01" stroke="#000" stroke-width="0.9" />
<circle cx="614.29" cy="98.54" r="2.2" fill="#000"/>
<line x1="644.56" y1="81.63" x2="644.56" y2="87.02" stroke="#000" stroke-width="0.9" />
<line x1="642.56" y1="81.63" x2="646.56" y2="81.63" stroke="#000" stroke-width="0.9" />
<line x1="642.56" y1="87.02" x2="646.56" y2="87.02" stroke="#000" stroke-width="0.9" />
<circle cx="644.56" cy="84.32" r="2.2" fill="#000"/>
<text x="584.0" y="123.2" font-size="7.7" font-weight="bold" fill="#000">R<tspan font-size="5.1" dy="-3.5">2</tspan><tspan dy="3.5">=0.9838</tspan></text>
<text x="1.00" y="271.60" font-size="17.2" font-weight="bold" text-anchor="start" fill="#000" >(C)</text>
<path d="M59.7,409.5 61.0,406.2 62.3,402.9 63.6,399.4 64.9,395.9 66.2,392.2 67.5,388.4 68.8,384.6 70.1,380.7 71.4,376.8 72.8,372.8 74.1,368.8 75.4,364.8 76.7,360.8 78.0,356.8 79.3,352.9 80.6,349.0 81.9,345.2 83.2,341.5 84.5,337.9 85.8,334.5 87.1,331.2 88.4,328.0 89.7,325.0 91.0,322.2 92.3,319.6 93.6,317.1 94.9,314.9 96.2,312.9 97.5,311.0 98.8,309.4 100.2,308.0 101.5,306.8 102.8,305.8 104.1,305.1 105.4,304.5 106.7,304.1 108.0,303.9 109.3,303.9 110.6,304.1 111.9,304.4 113.2,305.0 114.5,305.6 115.8,306.4 117.1,307.4 118.4,308.5 119.7,309.7 121.0,311.0 122.3,312.4 123.6,313.9 125.0,315.5 126.3,317.2 127.6,318.9 128.9,320.7 130.2,322.6 131.5,324.5 132.8,326.5 134.1,328.5 135.4,330.6 136.7,332.7 138.0,334.8 139.3,336.9 140.6,339.1 141.9,341.2 143.2,343.4 144.5,345.6 145.8,347.8 147.1,349.9 148.4,352.1 149.7,354.2 151.1,356.4 152.4,358.5 153.7,360.6 155.0,362.7 156.3,364.8 157.6,366.8 158.9,368.8 160.2,370.7 161.5,372.7 162.8,374.6 164.1,376.4 165.4,378.2 166.7,380.0 168.0,381.7 169.3,383.4 170.6,385.1 171.9,386.7 173.2,388.3 174.5,389.8 175.8,391.3 177.2,392.8 178.5,394.2 179.8,395.5 181.1,396.9 182.4,398.2 183.7,399.5 185.0,400.7 186.3,401.9 187.6,403.1 188.9,404.2 190.2,405.4 191.5,406.5 192.8,407.5 194.1,408.6 195.4,409.6 196.7,410.6 198.0,411.6 199.3,412.6 200.6,413.5 201.9,414.5 203.2,415.4 204.6,416.3 205.9,417.2 207.2,418.1 208.5,419.0 209.8,419.8 211.1,420.7 212.4,421.5 213.7,422.4 215.0,423.2 216.3,424.0 217.6,424.8 218.9,425.6 220.2,426.4 221.5,427.2 222.8,427.9 224.1,428.7 225.4,429.4 226.7,430.2 228.0,430.9 229.4,431.6 230.7,432.3 232.0,433.0 233.3,433.7 234.6,434.4 235.9,435.1 237.2,435.7 238.5,436.4 239.8,437.0 241.1,437.7 242.4,438.3 243.7,438.9 245.0,439.5 246.3,440.0 247.6,440.6 248.9,441.2 250.2,441.7 251.5,442.2 252.8,442.7 254.1,443.2 255.4,443.7 256.8,444.2 258.1,444.7 259.4,445.1 260.7,445.6 262.0,446.0 263.3,446.4 264.6,446.8 265.9,447.2 267.2,447.6 268.5,447.9 269.8,448.3 271.1,448.6 272.4,449.0 273.7,449.3 275.0,449.6 276.3,449.9 277.6,450.2 278.9,450.5 280.2,450.7 281.6,451.0 282.9,451.2 284.2,451.5 285.5,451.7 286.8,451.9 288.1,452.1 289.4,452.3 290.7,452.5 292.0,452.7 293.3,452.9 294.6,453.0 295.9,453.2 297.2,453.3 298.5,453.5 299.8,453.6 301.1,453.8 302.4,453.9 303.7,454.0 305.0,454.1 306.3,454.2 307.6,454.3 309.0,454.4 310.3,454.5 311.6,454.6 312.9,454.7 314.2,454.8 315.5,454.8 316.8,454.9 318.1,455.0 319.4,455.1 320.7,455.1" fill="none" stroke="#2fbf2f" stroke-width="1.3" stroke-linejoin="round"/>
<path d="M59.7,428.7 61.0,426.8 62.3,424.8 63.6,422.8 64.9,420.7 66.2,418.6 67.5,416.4 68.8,414.2 70.1,412.0 71.4,409.8 72.8,407.5 74.1,405.3 75.4,403.0 76.7,400.8 78.0,398.6 79.3,396.5 80.6,394.4 81.9,392.3 83.2,390.3 84.5,388.4 85.8,386.6 87.1,384.9 88.4,383.2 89.7,381.7 91.0,380.3 92.3,378.9 93.6,377.7 94.9,376.6 96.2,375.6 97.5,374.8 98.8,374.0 100.2,373.4 101.5,372.9 102.8,372.5 104.1,372.2 105.4,372.1 106.7,372.0 108.0,372.0 109.3,372.1 110.6,372.4 111.9,372.7 113.2,373.1 114.5,373.5 115.8,374.1 117.1,374.7 118.4,375.4 119.7,376.1 121.0,376.9 122.3,377.7 123.6,378.6 125.0,379.6 126.3,380.5 127.6,381.6 128.9,382.6 130.2,383.7 131.5,384.8 132.8,385.9 134.1,387.1 135.4,388.2 136.7,389.4 138.0,390.6 139.3,391.8 140.6,393.0 141.9,394.3 143.2,395.5 144.5,396.7 145.8,398.0 147.1,399.2 148.4,400.4 149.7,401.6 151.1,402.8 152.4,404.0 153.7,405.2 155.0,406.3 156.3,407.5 157.6,408.6 158.9,409.7 160.2,410.8 161.5,411.9 162.8,412.9 164.1,414.0 165.4,415.0 166.7,415.9 168.0,416.9 169.3,417.8 170.6,418.7 171.9,419.6 173.2,420.4 174.5,421.3 175.8,422.1 177.2,422.8 178.5,423.6 179.8,424.3 181.1,425.0 182.4,425.7 183.7,426.4 185.0,427.1 186.3,427.7 187.6,428.3 188.9,428.9 190.2,429.5 191.5,430.1 192.8,430.6 194.1,431.2 195.4,431.7 196.7,432.2 198.0,432.7 199.3,433.2 200.6,433.7 201.9,434.2 203.2,434.7 204.6,435.2 205.9,435.7 207.2,436.1 208.5,436.6 209.8,437.0 211.1,437.5 212.4,437.9 213.7,438.4 215.0,438.8 216.3,439.3 217.6,439.7 218.9,440.1 220.2,440.5 221.5,441.0 222.8,441.4 224.1,441.8 225.4,442.2 226.7,442.6 228.0,443.0 229.4,443.4 230.7,443.8 232.0,444.2 233.3,444.5 234.6,444.9 235.9,445.3 237.2,445.6 238.5,446.0 239.8,446.4 241.1,446.7 242.4,447.0 243.7,447.4 245.0,447.7 246.3,448.0 247.6,448.4 248.9,448.7 250.2,449.0 251.5,449.3 252.8,449.6 254.1,449.8 255.4,450.1 256.8,450.4 258.1,450.7 259.4,450.9 260.7,451.2 262.0,451.4 263.3,451.7 264.6,451.9 265.9,452.1 267.2,452.3 268.5,452.6 269.8,452.8 271.1,453.0 272.4,453.2 273.7,453.3 275.0,453.5 276.3,453.7 277.6,453.9 278.9,454.0 280.2,454.2 281.6,454.4 282.9,454.5 284.2,454.6 285.5,454.8 286.8,454.9 288.1,455.0 289.4,455.2 290.7,455.3 292.0,455.4 293.3,455.5 294.6,455.6 295.9,455.7 297.2,455.8 298.5,455.9 299.8,456.0 301.1,456.1 302.4,456.2 303.7,456.2 305.0,456.3 306.3,456.4 307.6,456.4 309.0,456.5 310.3,456.6 311.6,456.6 312.9,456.7 314.2,456.7 315.5,456.8 316.8,456.8 318.1,456.9 319.4,456.9 320.7,456.9" fill="none" stroke="#2a2a2a" stroke-width="1.3" stroke-linejoin="round"/>
<path d="M59.7,437.4 61.0,436.1 62.3,434.6 63.6,433.2 64.9,431.7 66.2,430.2 67.5,428.6 68.8,427.0 70.1,425.4 71.4,423.8 72.8,422.2 74.1,420.6 75.4,419.0 76.7,417.4 78.0,415.9 79.3,414.3 80.6,412.8 81.9,411.4 83.2,409.9 84.5,408.6 85.8,407.3 87.1,406.0 88.4,404.9 89.7,403.8 91.0,402.7 92.3,401.8 93.6,400.9 94.9,400.1 96.2,399.4 97.5,398.8 98.8,398.3 100.2,397.8 101.5,397.5 102.8,397.2 104.1,397.0 105.4,396.9 106.7,396.8 108.0,396.8 109.3,396.9 110.6,397.1 111.9,397.3 113.2,397.6 114.5,397.9 115.8,398.3 117.1,398.7 118.4,399.2 119.7,399.8 121.0,400.3 122.3,400.9 123.6,401.6 125.0,402.2 126.3,402.9 127.6,403.7 128.9,404.4 130.2,405.2 131.5,406.0 132.8,406.8 134.1,407.6 135.4,408.4 136.7,409.3 138.0,410.1 139.3,411.0 140.6,411.9 141.9,412.8 143.2,413.6 144.5,414.5 145.8,415.4 147.1,416.3 148.4,417.1 149.7,418.0 151.1,418.9 152.4,419.7 153.7,420.6 155.0,421.4 156.3,422.2 157.6,423.0 158.9,423.8 160.2,424.6 161.5,425.4 162.8,426.1 164.1,426.9 165.4,427.6 166.7,428.3 168.0,428.9 169.3,429.6 170.6,430.3 171.9,430.9 173.2,431.5 174.5,432.1 175.8,432.7 177.2,433.2 178.5,433.7 179.8,434.3 181.1,434.8 182.4,435.3 183.7,435.8 185.0,436.2 186.3,436.7 187.6,437.1 188.9,437.5 190.2,438.0 191.5,438.4 192.8,438.8 194.1,439.2 195.4,439.5 196.7,439.9 198.0,440.3 199.3,440.7 200.6,441.0 201.9,441.4 203.2,441.7 204.6,442.0 205.9,442.4 207.2,442.7 208.5,443.0 209.8,443.4 211.1,443.7 212.4,444.0 213.7,444.3 215.0,444.6 216.3,445.0 217.6,445.3 218.9,445.6 220.2,445.9 221.5,446.2 222.8,446.5 224.1,446.8 225.4,447.1 226.7,447.3 228.0,447.6 229.4,447.9 230.7,448.2 232.0,448.5 233.3,448.7 234.6,449.0 235.9,449.3 237.2,449.5 238.5,449.8 239.8,450.0 241.1,450.3 242.4,450.5 243.7,450.8 245.0,451.0 246.3,451.2 247.6,451.5 248.9,451.7 250.2,451.9 251.5,452.1 252.8,452.3 254.1,452.5 255.4,452.7 256.8,452.9 258.1,453.1 259.4,453.3 260.7,453.5 262.0,453.7 263.3,453.8 264.6,454.0 265.9,454.2 267.2,454.3 268.5,454.5 269.8,454.6 271.1,454.8 272.4,454.9 273.7,455.0 275.0,455.2 276.3,455.3 277.6,455.4 278.9,455.5 280.2,455.7 281.6,455.8 282.9,455.9 284.2,456.0 285.5,456.1 286.8,456.2 288.1,456.3 289.4,456.3 290.7,456.4 292.0,456.5 293.3,456.6 294.6,456.7 295.9,456.7 297.2,456.8 298.5,456.9 299.8,456.9 301.1,457.0 302.4,457.0 303.7,457.1 305.0,457.2 306.3,457.2 307.6,457.3 309.0,457.3 310.3,457.3 311.6,457.4 312.9,457.4 314.2,457.5 315.5,457.5 316.8,457.5 318.1,457.6 319.4,457.6 320.7,457.6" fill="none" stroke="#b23de6" stroke-width="1.3" stroke-linejoin="round"/>
<path d="M59.7,438.9 61.0,437.7 62.3,436.4 63.6,435.0 64.9,433.6 66.2,432.2 67.5,430.8 68.8,429.3 70.1,427.8 71.4,426.3 72.8,424.8 74.1,423.3 75.4,421.8 76.7,420.3 78.0,418.9 79.3,417.5 80.6,416.1 81.9,414.7 83.2,413.4 84.5,412.1 85.8,410.9 87.1,409.7 88.4,408.6 89.7,407.6 91.0,406.7 92.3,405.8 93.6,405.0 94.9,404.3 96.2,403.6 97.5,403.0 98.8,402.5 100.2,402.1 101.5,401.8 102.8,401.5 104.1,401.3 105.4,401.2 106.7,401.2 108.0,401.2 109.3,401.3 110.6,401.4 111.9,401.6 113.2,401.9 114.5,402.2 115.8,402.6 117.1,403.0 118.4,403.4 119.7,403.9 121.0,404.4 122.3,405.0 123.6,405.6 125.0,406.2 126.3,406.9 127.6,407.5 128.9,408.2 130.2,409.0 131.5,409.7 132.8,410.4 134.1,411.2 135.4,412.0 136.7,412.8 138.0,413.6 139.3,414.4 140.6,415.2 141.9,416.0 143.2,416.8 144.5,417.6 145.8,418.5 147.1,419.3 148.4,420.1 149.7,420.9 151.1,421.7 152.4,422.5 153.7,423.3 155.0,424.0 156.3,424.8 157.6,425.6 158.9,426.3 160.2,427.0 161.5,427.7 162.8,428.4 164.1,429.1 165.4,429.8 166.7,430.4 168.0,431.1 169.3,431.7 170.6,432.3 171.9,432.9 173.2,433.4 174.5,434.0 175.8,434.5 177.2,435.0 178.5,435.5 179.8,436.0 181.1,436.5 182.4,436.9 183.7,437.4 185.0,437.8 186.3,438.3 187.6,438.7 188.9,439.1 190.2,439.5 191.5,439.8 192.8,440.2 194.1,440.6 195.4,440.9 196.7,441.3 198.0,441.6 199.3,442.0 200.6,442.3 201.9,442.6 203.2,442.9 204.6,443.3 205.9,443.6 207.2,443.9 208.5,444.2 209.8,444.5 211.1,444.8 212.4,445.1 213.7,445.4 215.0,445.7 216.3,446.0 217.6,446.2 218.9,446.5 220.2,446.8 221.5,447.1 222.8,447.4 224.1,447.6 225.4,447.9 226.7,448.2 228.0,448.4 229.4,448.7 230.7,449.0 232.0,449.2 233.3,449.5 234.6,449.7 235.9,450.0 237.2,450.2 238.5,450.4 239.8,450.7 241.1,450.9 242.4,451.1 243.7,451.4 245.0,451.6 246.3,451.8 247.6,452.0 248.9,452.2 250.2,452.4 251.5,452.6 252.8,452.8 254.1,453.0 255.4,453.2 256.8,453.4 258.1,453.5 259.4,453.7 260.7,453.9 262.0,454.1 263.3,454.2 264.6,454.4 265.9,454.5 267.2,454.7 268.5,454.8 269.8,454.9 271.1,455.1 272.4,455.2 273.7,455.3 275.0,455.5 276.3,455.6 277.6,455.7 278.9,455.8 280.2,455.9 281.6,456.0 282.9,456.1 284.2,456.2 285.5,456.3 286.8,456.4 288.1,456.5 289.4,456.6 290.7,456.6 292.0,456.7 293.3,456.8 294.6,456.8 295.9,456.9 297.2,457.0 298.5,457.0 299.8,457.1 301.1,457.2 302.4,457.2 303.7,457.3 305.0,457.3 306.3,457.4 307.6,457.4 309.0,457.4 310.3,457.5 311.6,457.5 312.9,457.6 314.2,457.6 315.5,457.6 316.8,457.7 318.1,457.7 319.4,457.7 320.7,457.7" fill="none" stroke="#f59a32" stroke-width="1.3" stroke-linejoin="round"/>
<path d="M59.7,438.7 61.0,437.4 62.3,436.1 63.6,434.7 64.9,433.3 66.2,431.9 67.5,430.4 68.8,428.9 70.1,427.4 71.4,425.9 72.8,424.4 74.1,422.9 75.4,421.3 76.7,419.9 78.0,418.4 79.3,416.9 80.6,415.5 81.9,414.1 83.2,412.8 84.5,411.5 85.8,410.3 87.1,409.1 88.4,408.0 89.7,407.0 91.0,406.0 92.3,405.1 93.6,404.3 94.9,403.6 96.2,402.9 97.5,402.3 98.8,401.8 100.2,401.4 101.5,401.0 102.8,400.8 104.1,400.6 105.4,400.5 106.7,400.4 108.0,400.4 109.3,400.5 110.6,400.7 111.9,400.9 113.2,401.1 114.5,401.5 115.8,401.8 117.1,402.2 118.4,402.7 119.7,403.2 121.0,403.7 122.3,404.3 123.6,404.9 125.0,405.5 126.3,406.2 127.6,406.9 128.9,407.6 130.2,408.3 131.5,409.1 132.8,409.8 134.1,410.6 135.4,411.4 136.7,412.2 138.0,413.0 139.3,413.8 140.6,414.6 141.9,415.4 143.2,416.3 144.5,417.1 145.8,417.9 147.1,418.8 148.4,419.6 149.7,420.4 151.1,421.2 152.4,422.0 153.7,422.8 155.0,423.6 156.3,424.4 157.6,425.1 158.9,425.9 160.2,426.6 161.5,427.3 162.8,428.0 164.1,428.7 165.4,429.4 166.7,430.1 168.0,430.7 169.3,431.3 170.6,431.9 171.9,432.5 173.2,433.1 174.5,433.7 175.8,434.2 177.2,434.7 178.5,435.2 179.8,435.7 181.1,436.2 182.4,436.7 183.7,437.1 185.0,437.6 186.3,438.0 187.6,438.4 188.9,438.8 190.2,439.2 191.5,439.6 192.8,440.0 194.1,440.3 195.4,440.7 196.7,441.0 198.0,441.4 199.3,441.7 200.6,442.1 201.9,442.4 203.2,442.7 204.6,443.0 205.9,443.4 207.2,443.7 208.5,444.0 209.8,444.3 211.1,444.6 212.4,444.9 213.7,445.2 215.0,445.5 216.3,445.8 217.6,446.1 218.9,446.4 220.2,446.6 221.5,446.9 222.8,447.2 224.1,447.5 225.4,447.8 226.7,448.0 228.0,448.3 229.4,448.6 230.7,448.8 232.0,449.1 233.3,449.3 234.6,449.6 235.9,449.8 237.2,450.1 238.5,450.3 239.8,450.6 241.1,450.8 242.4,451.0 243.7,451.3 245.0,451.5 246.3,451.7 247.6,451.9 248.9,452.1 250.2,452.3 251.5,452.5 252.8,452.7 254.1,452.9 255.4,453.1 256.8,453.3 258.1,453.5 259.4,453.7 260.7,453.8 262.0,454.0 263.3,454.1 264.6,454.3 265.9,454.5 267.2,454.6 268.5,454.8 269.8,454.9 271.1,455.0 272.4,455.2 273.7,455.3 275.0,455.4 276.3,455.5 277.6,455.6 278.9,455.8 280.2,455.9 281.6,456.0 282.9,456.1 284.2,456.2 285.5,456.3 286.8,456.3 288.1,456.4 289.4,456.5 290.7,456.6 292.0,456.7 293.3,456.7 294.6,456.8 295.9,456.9 297.2,456.9 298.5,457.0 299.8,457.1 301.1,457.1 302.4,457.2 303.7,457.2 305.0,457.3 306.3,457.3 307.6,457.4 309.0,457.4 310.3,457.5 311.6,457.5 312.9,457.5 314.2,457.6 315.5,457.6 316.8,457.6 318.1,457.7 319.4,457.7 320.7,457.7" fill="none" stroke="#e03030" stroke-width="1.3" stroke-linejoin="round"/>
<path d="M59.7,439.1 61.0,437.8 62.3,436.5 63.6,435.2 64.9,433.8 66.2,432.4 67.5,430.9 68.8,429.5 70.1,428.0 71.4,426.5 72.8,425.0 74.1,423.5 75.4,422.0 76.7,420.6 78.0,419.1 79.3,417.7 80.6,416.3 81.9,415.0 83.2,413.7 84.5,412.4 85.8,411.2 87.1,410.0 88.4,409.0 89.7,407.9 91.0,407.0 92.3,406.1 93.6,405.3 94.9,404.6 96.2,403.9 97.5,403.4 98.8,402.9 100.2,402.5 101.5,402.1 102.8,401.9 104.1,401.7 105.4,401.6 106.7,401.5 108.0,401.5 109.3,401.6 110.6,401.8 111.9,402.0 113.2,402.2 114.5,402.5 115.8,402.9 117.1,403.3 118.4,403.7 119.7,404.2 121.0,404.8 122.3,405.3 123.6,405.9 125.0,406.5 126.3,407.2 127.6,407.8 128.9,408.5 130.2,409.3 131.5,410.0 132.8,410.7 134.1,411.5 135.4,412.3 136.7,413.1 138.0,413.8 139.3,414.6 140.6,415.4 141.9,416.3 143.2,417.1 144.5,417.9 145.8,418.7 147.1,419.5 148.4,420.3 149.7,421.1 151.1,421.9 152.4,422.7 153.7,423.5 155.0,424.3 156.3,425.0 157.6,425.8 158.9,426.5 160.2,427.2 161.5,427.9 162.8,428.6 164.1,429.3 165.4,430.0 166.7,430.6 168.0,431.2 169.3,431.8 170.6,432.4 171.9,433.0 173.2,433.6 174.5,434.1 175.8,434.7 177.2,435.2 178.5,435.7 179.8,436.2 181.1,436.6 182.4,437.1 183.7,437.5 185.0,438.0 186.3,438.4 187.6,438.8 188.9,439.2 190.2,439.6 191.5,439.9 192.8,440.3 194.1,440.7 195.4,441.0 196.7,441.4 198.0,441.7 199.3,442.1 200.6,442.4 201.9,442.7 203.2,443.0 204.6,443.3 205.9,443.7 207.2,444.0 208.5,444.3 209.8,444.6 211.1,444.9 212.4,445.2 213.7,445.5 215.0,445.7 216.3,446.0 217.6,446.3 218.9,446.6 220.2,446.9 221.5,447.2 222.8,447.4 224.1,447.7 225.4,448.0 226.7,448.2 228.0,448.5 229.4,448.8 230.7,449.0 232.0,449.3 233.3,449.5 234.6,449.8 235.9,450.0 237.2,450.3 238.5,450.5 239.8,450.7 241.1,451.0 242.4,451.2 243.7,451.4 245.0,451.6 246.3,451.8 247.6,452.1 248.9,452.3 250.2,452.5 251.5,452.7 252.8,452.9 254.1,453.0 255.4,453.2 256.8,453.4 258.1,453.6 259.4,453.8 260.7,453.9 262.0,454.1 263.3,454.2 264.6,454.4 265.9,454.5 267.2,454.7 268.5,454.8 269.8,455.0 271.1,455.1 272.4,455.2 273.7,455.4 275.0,455.5 276.3,455.6 277.6,455.7 278.9,455.8 280.2,455.9 281.6,456.0 282.9,456.1 284.2,456.2 285.5,456.3 286.8,456.4 288.1,456.5 289.4,456.6 290.7,456.6 292.0,456.7 293.3,456.8 294.6,456.9 295.9,456.9 297.2,457.0 298.5,457.1 299.8,457.1 301.1,457.2 302.4,457.2 303.7,457.3 305.0,457.3 306.3,457.4 307.6,457.4 309.0,457.4 310.3,457.5 311.6,457.5 312.9,457.6 314.2,457.6 315.5,457.6 316.8,457.7 318.1,457.7 319.4,457.7 320.7,457.7" fill="none" stroke="#2323d6" stroke-width="1.3" stroke-linejoin="round"/>
<rect x="59.70" y="285.10" width="261.00" height="174.20" fill="none" stroke="#000" stroke-width="2"/>
<line x1="52.20" y1="459.30" x2="59.70" y2="459.30" stroke="#000" stroke-width="2" />
<text x="49.30" y="463.81" font-size="12.9" font-weight="bold" text-anchor="end" fill="#000" >0</text>
<line x1="52.20" y1="415.75" x2="59.70" y2="415.75" stroke="#000" stroke-width="2" />
<text x="49.30" y="420.26" font-size="12.9" font-weight="bold" text-anchor="end" fill="#000" >100</text>
<line x1="52.20" y1="372.20" x2="59.70" y2="372.20" stroke="#000" stroke-width="2" />
<text x="49.30" y="376.72" font-size="12.9" font-weight="bold" text-anchor="end" fill="#000" >200</text>
<line x1="52.20" y1="328.65" x2="59.70" y2="328.65" stroke="#000" stroke-width="2" />
<text x="49.30" y="333.16" font-size="12.9" font-weight="bold" text-anchor="end" fill="#000" >300</text>
<line x1="52.20" y1="285.10" x2="59.70" y2="285.10" stroke="#000" stroke-width="2" />
<text x="49.30" y="289.62" font-size="12.9" font-weight="bold" text-anchor="end" fill="#000" >400</text>
<line x1="55.50" y1="450.59" x2="59.70" y2="450.59" stroke="#000" stroke-width="2" />
<line x1="55.50" y1="441.88" x2="59.70" y2="441.88" stroke="#000" stroke-width="2" />
<line x1="55.50" y1="433.17" x2="59.70" y2="433.17" stroke="#000" stroke-width="2" />
<line x1="55.50" y1="424.46" x2="59.70" y2="424.46" stroke="#000" stroke-width="2" />
<line x1="55.50" y1="407.04" x2="59.70" y2="407.04" stroke="#000" stroke-width="2" />
<line x1="55.50" y1="398.33" x2="59.70" y2="398.33" stroke="#000" stroke-width="2" />
<line x1="55.50" y1="389.62" x2="59.70" y2="389.62" stroke="#000" stroke-width="2" />
<line x1="55.50" y1="380.91" x2="59.70" y2="380.91" stroke="#000" stroke-width="2" />
<line x1="55.50" y1="363.49" x2="59.70" y2="363.49" stroke="#000" stroke-width="2" />
<line x1="55.50" y1="354.78" x2="59.70" y2="354.78" stroke="#000" stroke-width="2" />
<line x1="55.50" y1="346.07" x2="59.70" y2="346.07" stroke="#000" stroke-width="2" />
<line x1="55.50" y1="337.36" x2="59.70" y2="337.36" stroke="#000" stroke-width="2" />
<line x1="55.50" y1="319.94" x2="59.70" y2="319.94" stroke="#000" stroke-width="2" />
<line x1="55.50" y1="311.23" x2="59.70" y2="311.23" stroke="#000" stroke-width="2" />
<line x1="55.50" y1="302.52" x2="59.70" y2="302.52" stroke="#000" stroke-width="2" />
<line x1="55.50" y1="293.81" x2="59.70" y2="293.81" stroke="#000" stroke-width="2" />
<line x1="59.70" y1="459.30" x2="59.70" y2="466.60" stroke="#000" stroke-width="2" />
<text x="59.70" y="480.90" font-size="12.9" font-weight="bold" text-anchor="middle" fill="#000" >500</text>
<line x1="111.90" y1="459.30" x2="111.90" y2="466.60" stroke="#000" stroke-width="2" />
<text x="111.90" y="480.90" font-size="12.9" font-weight="bold" text-anchor="middle" fill="#000" >520</text>
<line x1="164.10" y1="459.30" x2="164.10" y2="466.60" stroke="#000" stroke-width="2" />
<text x="164.10" y="480.90" font-size="12.9" font-weight="bold" text-anchor="middle" fill="#000" >540</text>
<line x1="216.30" y1="459.30" x2="216.30" y2="466.60" stroke="#000" stroke-width="2" />
<text x="216.30" y="480.90" font-size="12.9" font-weight="bold" text-anchor="middle" fill="#000" >560</text>
<line x1="268.50" y1="459.30" x2="268.50" y2="466.60" stroke="#000" stroke-width="2" />
<text x="268.50" y="480.90" font-size="12.9" font-weight="bold" text-anchor="middle" fill="#000" >580</text>
<line x1="320.70" y1="459.30" x2="320.70" y2="466.60" stroke="#000" stroke-width="2" />
<text x="320.70" y="480.90" font-size="12.9" font-weight="bold" text-anchor="middle" fill="#000" >600</text>
<line x1="70.14" y1="459.30" x2="70.14" y2="463.30" stroke="#000" stroke-width="2" />
<line x1="80.58" y1="459.30" x2="80.58" y2="463.30" stroke="#000" stroke-width="2" />
<line x1="91.02" y1="459.30" x2="91.02" y2="463.30" stroke="#000" stroke-width="2" />
<line x1="101.46" y1="459.30" x2="101.46" y2="463.30" stroke="#000" stroke-width="2" />
<line x1="122.34" y1="459.30" x2="122.34" y2="463.30" stroke="#000" stroke-width="2" />
<line x1="132.78" y1="459.30" x2="132.78" y2="463.30" stroke="#000" stroke-width="2" />
<line x1="143.22" y1="459.30" x2="143.22" y2="463.30" stroke="#000" stroke-width="2" />
<line x1="153.66" y1="459.30" x2="153.66" y2="463.30" stroke="#000" stroke-width="2" />
<line x1="174.54" y1="459.30" x2="174.54" y2="463.30" stroke="#000" stroke-width="2" />
<line x1="184.98" y1="459.30" x2="184.98" y2="463.30" stroke="#000" stroke-width="2" />
<line x1="195.42" y1="459.30" x2="195.42" y2="463.30" stroke="#000" stroke-width="2" />
<line x1="205.86" y1="459.30" x2="205.86" y2="463.30" stroke="#000" stroke-width="2" />
<line x1="226.74" y1="459.30" x2="226.74" y2="463.30" stroke="#000" stroke-width="2" />
<line x1="237.18" y1="459.30" x2="237.18" y2="463.30" stroke="#000" stroke-width="2" />
<line x1="247.62" y1="459.30" x2="247.62" y2="463.30" stroke="#000" stroke-width="2" />
<line x1="258.06" y1="459.30" x2="258.06" y2="463.30" stroke="#000" stroke-width="2" />
<line x1="278.94" y1="459.30" x2="278.94" y2="463.30" stroke="#000" stroke-width="2" />
<line x1="289.38" y1="459.30" x2="289.38" y2="463.30" stroke="#000" stroke-width="2" />
<line x1="299.82" y1="459.30" x2="299.82" y2="463.30" stroke="#000" stroke-width="2" />
<line x1="310.26" y1="459.30" x2="310.26" y2="463.30" stroke="#000" stroke-width="2" />
<text x="190.00" y="501.00" font-size="13.2" font-weight="bold" text-anchor="middle" fill="#000" >Wavelength (nm)</text>
<text x="0.00" y="0.00" font-size="13.2" font-weight="bold" text-anchor="middle" fill="#000" transform="translate(19.2,371.8) rotate(-90)">Fluorescence (a.u.)</text>
<line x1="213.50" y1="295.80" x2="231.90" y2="295.80" stroke="#2323d6" stroke-width="1.3" />
<text x="242.50" y="300.10" font-size="12" font-weight="normal" text-anchor="start" fill="#000" >Blank</text>
<line x1="213.50" y1="311.95" x2="231.90" y2="311.95" stroke="#e03030" stroke-width="1.3" />
<text x="242.50" y="316.25" font-size="12" font-weight="normal" text-anchor="start" fill="#000" >miRNA-122</text>
<line x1="213.50" y1="328.10" x2="231.90" y2="328.10" stroke="#f59a32" stroke-width="1.3" />
<text x="242.50" y="332.40" font-size="12" font-weight="normal" text-anchor="start" fill="#000" >miRNA-410</text>
<line x1="213.50" y1="344.25" x2="231.90" y2="344.25" stroke="#b23de6" stroke-width="1.3" />
<text x="242.50" y="348.55" font-size="12" font-weight="normal" text-anchor="start" fill="#000" >miRNA-21-T</text>
<line x1="213.50" y1="360.40" x2="231.90" y2="360.40" stroke="#2a2a2a" stroke-width="1.3" />
<text x="242.50" y="364.70" font-size="12" font-weight="normal" text-anchor="start" fill="#000" >miRNA-21-S</text>
<line x1="213.50" y1="376.55" x2="231.90" y2="376.55" stroke="#2fbf2f" stroke-width="1.3" />
<text x="242.50" y="380.85" font-size="12" font-weight="normal" text-anchor="start" fill="#000" >miRNA-21</text>
<text x="341.70" y="271.60" font-size="17.2" font-weight="bold" text-anchor="start" fill="#000" >(D)</text>
<rect x="417.35" y="399.96" width="26.8" height="56.54" fill="#ff0000"/>
<line x1="430.75" y1="399.96" x2="430.75" y2="397.40" stroke="#000" stroke-width="1.5" />
<line x1="424.45" y1="397.40" x2="437.05" y2="397.40" stroke="#000" stroke-width="1.6" />
<rect x="457.80" y="398.97" width="26.8" height="57.53" fill="#ff0000"/>
<line x1="471.20" y1="398.97" x2="471.20" y2="393.00" stroke="#000" stroke-width="1.5" />
<line x1="464.90" y1="393.00" x2="477.50" y2="393.00" stroke="#000" stroke-width="1.6" />
<rect x="498.25" y="399.74" width="26.8" height="56.76" fill="#ff0000"/>
<line x1="511.65" y1="399.74" x2="511.65" y2="394.19" stroke="#000" stroke-width="1.5" />
<line x1="505.35" y1="394.19" x2="517.95" y2="394.19" stroke="#000" stroke-width="1.6" />
<rect x="538.70" y="396.20" width="26.8" height="60.30" fill="#ff0000"/>
<line x1="552.10" y1="396.20" x2="552.10" y2="390.23" stroke="#000" stroke-width="1.5" />
<line x1="545.80" y1="390.23" x2="558.40" y2="390.23" stroke="#000" stroke-width="1.6" />
<rect x="579.15" y="372.00" width="26.8" height="84.50" fill="#ff0000"/>
<line x1="592.55" y1="372.00" x2="592.55" y2="365.60" stroke="#000" stroke-width="1.5" />
<line x1="586.25" y1="365.60" x2="598.85" y2="365.60" stroke="#000" stroke-width="1.6" />
<rect x="619.60" y="304.83" width="26.8" height="151.67" fill="#ff0000"/>
<line x1="633.00" y1="304.83" x2="633.00" y2="302.27" stroke="#000" stroke-width="1.5" />
<line x1="626.70" y1="302.27" x2="639.30" y2="302.27" stroke="#000" stroke-width="1.6" />
<rect x="403.80" y="285.80" width="256.70" height="170.70" fill="none" stroke="#000" stroke-width="2"/>
<line x1="396.30" y1="456.50" x2="403.80" y2="456.50" stroke="#000" stroke-width="2" />
<text x="394.00" y="460.91" font-size="12.6" font-weight="bold" text-anchor="end" fill="#000" >0</text>
<line x1="396.30" y1="413.82" x2="403.80" y2="413.82" stroke="#000" stroke-width="2" />
<text x="394.00" y="418.24" font-size="12.6" font-weight="bold" text-anchor="end" fill="#000" >100</text>
<line x1="396.30" y1="371.15" x2="403.80" y2="371.15" stroke="#000" stroke-width="2" />
<text x="394.00" y="375.56" font-size="12.6" font-weight="bold" text-anchor="end" fill="#000" >200</text>
<line x1="396.30" y1="328.48" x2="403.80" y2="328.48" stroke="#000" stroke-width="2" />
<text x="394.00" y="332.89" font-size="12.6" font-weight="bold" text-anchor="end" fill="#000" >300</text>
<line x1="396.30" y1="285.80" x2="403.80" y2="285.80" stroke="#000" stroke-width="2" />
<text x="394.00" y="290.21" font-size="12.6" font-weight="bold" text-anchor="end" fill="#000" >400</text>
<line x1="399.60" y1="447.96" x2="403.80" y2="447.96" stroke="#000" stroke-width="2" />
<line x1="399.60" y1="439.43" x2="403.80" y2="439.43" stroke="#000" stroke-width="2" />
<line x1="399.60" y1="430.89" x2="403.80" y2="430.89" stroke="#000" stroke-width="2" />
<line x1="399.60" y1="422.36" x2="403.80" y2="422.36" stroke="#000" stroke-width="2" />
<line x1="399.60" y1="405.29" x2="403.80" y2="405.29" stroke="#000" stroke-width="2" />
<line x1="399.60" y1="396.75" x2="403.80" y2="396.75" stroke="#000" stroke-width="2" />
<line x1="399.60" y1="388.22" x2="403.80" y2="388.22" stroke="#000" stroke-width="2" />
<line x1="399.60" y1="379.69" x2="403.80" y2="379.69" stroke="#000" stroke-width="2" />
<line x1="399.60" y1="362.62" x2="403.80" y2="362.62" stroke="#000" stroke-width="2" />
<line x1="399.60" y1="354.08" x2="403.80" y2="354.08" stroke="#000" stroke-width="2" />
<line x1="399.60" y1="345.55" x2="403.80" y2="345.55" stroke="#000" stroke-width="2" />
<line x1="399.60" y1="337.01" x2="403.80" y2="337.01" stroke="#000" stroke-width="2" />
<line x1="399.60" y1="319.94" x2="403.80" y2="319.94" stroke="#000" stroke-width="2" />
<line x1="399.60" y1="311.41" x2="403.80" y2="311.41" stroke="#000" stroke-width="2" />
<line x1="399.60" y1="302.87" x2="403.80" y2="302.87" stroke="#000" stroke-width="2" />
<line x1="399.60" y1="294.34" x2="403.80" y2="294.34" stroke="#000" stroke-width="2" />
<line x1="430.75" y1="456.50" x2="430.75" y2="463.50" stroke="#000" stroke-width="2" />
<text x="0.00" y="0.00" font-size="10.5" font-weight="bold" text-anchor="end" fill="#000" transform="translate(433.95,474.0) rotate(-45)">Blank</text>
<line x1="471.20" y1="456.50" x2="471.20" y2="463.50" stroke="#000" stroke-width="2" />
<text x="0.00" y="0.00" font-size="10.5" font-weight="bold" text-anchor="end" fill="#000" transform="translate(474.40,474.0) rotate(-45)">miRNA-122</text>
<line x1="511.65" y1="456.50" x2="511.65" y2="463.50" stroke="#000" stroke-width="2" />
<text x="0.00" y="0.00" font-size="10.5" font-weight="bold" text-anchor="end" fill="#000" transform="translate(514.85,474.0) rotate(-45)">miRNA-410</text>
<line x1="552.10" y1="456.50" x2="552.10" y2="463.50" stroke="#000" stroke-width="2" />
<text x="0.00" y="0.00" font-size="10.5" font-weight="bold" text-anchor="end" fill="#000" transform="translate(555.30,474.0) rotate(-45)">miRNA-21-T</text>
<line x1="592.55" y1="456.50" x2="592.55" y2="463.50" stroke="#000" stroke-width="2" />
<text x="0.00" y="0.00" font-size="10.5" font-weight="bold" text-anchor="end" fill="#000" transform="translate(595.75,474.0) rotate(-45)">miRNA-21-S</text>
<line x1="633.00" y1="456.50" x2="633.00" y2="463.50" stroke="#000" stroke-width="2" />
<text x="0.00" y="0.00" font-size="10.5" font-weight="bold" text-anchor="end" fill="#000" transform="translate(636.20,474.0) rotate(-45)">miRNA-21</text>
<text x="0.00" y="0.00" font-size="12.8" font-weight="bold" text-anchor="middle" fill="#000" transform="translate(364.5,371.2) rotate(-90)">Fluorescence (a.u.)</text>
</svg>
</body></html>
